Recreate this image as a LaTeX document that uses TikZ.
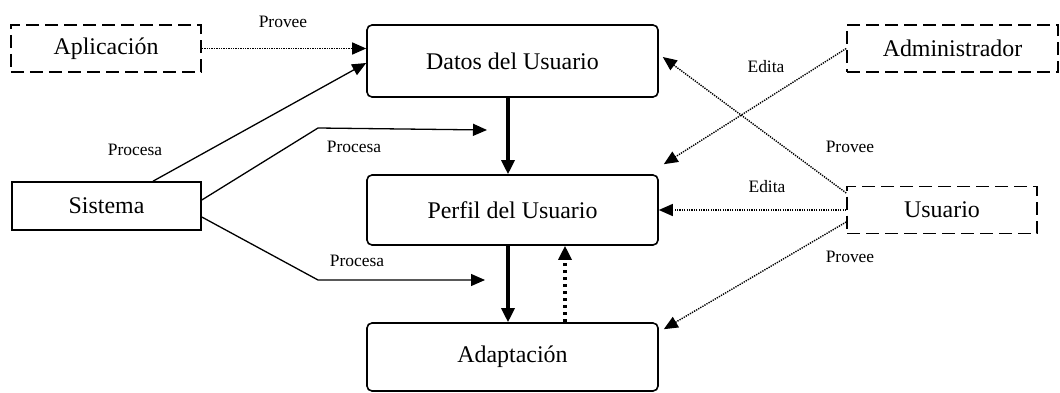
\documentclass[tikz,border=0pt]{standalone}
\usepackage{fontspec}
\setmainfont{Liberation Serif}
\usetikzlibrary{arrows.meta,positioning,calc}

\begin{document}
\begin{tikzpicture}[x=1bp,y=1bp,
  caja/.style={draw,line width=1.6bp,rounded corners=5bp,minimum width=291bp,font=\fontsize{24}{28}\selectfont},
  actor/.style={draw,line width=1.6bp,dash pattern=on 13bp off 6bp,minimum height=47bp,font=\fontsize{24}{28}\selectfont},
  proc/.style={draw,line width=1.6bp,minimum width=189bp,minimum height=48bp,font=\fontsize{24}{28}\selectfont},
  etiq/.style={font=\fontsize{17.5}{20}\selectfont,inner sep=0pt},
  flecha/.style={-{Triangle[length=14bp,width=12bp]},line width=1.3bp},
  punteada/.style={flecha,line width=1.4bp,dash pattern=on 1.3bp off 1.1bp},
  gruesa/.style={-{Triangle[length=14bp,width=13bp]},line width=3.2bp}]
  \useasboundingbox (0,0) rectangle (1060,392); % marco de la figura
  \node[actor,minimum width=190bp] (apl) at (106,343.5) {Aplicación}; % actor externo
  \node[caja,minimum height=72bp] (datos) at (512.5,331) {Datos del Usuario};
  \node[proc] (sist) at (106.5,186) {Sistema};
  \node[caja,minimum height=70bp] (perfil) at (512.5,182) {Perfil del Usuario};
  \node[caja,minimum height=68bp] (adapt) at (512.5,35) {Adaptación};
  \node[actor,minimum width=211bp] (admin) at (952.5,343.5) {Administrador};
  \node[actor,minimum width=190bp] (usu) at (942,182) {Usuario};
  \coordinate (q1) at (318,264); % quiebre de la flecha superior de Sistema
  \coordinate (p1) at (487,262);
  \coordinate (q2) at (318,112); % quiebre de la flecha inferior de Sistema
  \coordinate (p2) at (485,112);
  % flechas de Sistema (procesa)
  \draw[flecha] ([xshift=46.5bp]sist.north) -- ([yshift=-2bp]datos.west);
  \draw[flecha] ([yshift=6bp]sist.east) -- (q1) -- (p1);
  \draw[flecha] ([yshift=-11bp]sist.east) -- (q2) -- (p2);
  % flujo central
  \draw[gruesa] ([xshift=-4.5bp]datos.south) -- ([xshift=-4.5bp]perfil.north);
  \draw[gruesa] ([xshift=-4.5bp]perfil.south) -- ([xshift=-4.5bp]adapt.north);
  \draw[gruesa,dash pattern=on 3.5bp off 3.5bp] ([xshift=52.5bp]adapt.north) -- ([xshift=52.5bp]perfil.south);
  % actores externos (punteadas)
  \draw[punteada] (apl.east) -- (datos.west |- apl.east);
  \draw[punteada] (admin.west) -- ([xshift=5bp,yshift=10bp]perfil.north east);
  \draw[punteada] ([yshift=17bp]usu.west) -- ([xshift=4bp,yshift=4bp]datos.east);
  \draw[punteada] (usu.west) -- (perfil.east);
  \draw[punteada] ([yshift=-12bp]usu.west) -- ([xshift=5bp,yshift=-7bp]adapt.north east);
  % etiquetas
  \node[etiq] (lprov1) at (283,370) {Provee};
  \node[etiq] (lproc1) at (135,242) {Procesa};
  \node[etiq] (lproc2) at (354,245) {Procesa};
  \node[etiq] (lproc3) at (357,131) {Procesa};
  \node[etiq] (ledit1) at (766,325) {Edita};
  \node[etiq] (lprov2) at (850,245) {Provee};
  \node[etiq] (ledit2) at (767,205) {Edita};
  \node[etiq] (lprov3) at (850,135) {Provee};
\end{tikzpicture}
\end{document}
